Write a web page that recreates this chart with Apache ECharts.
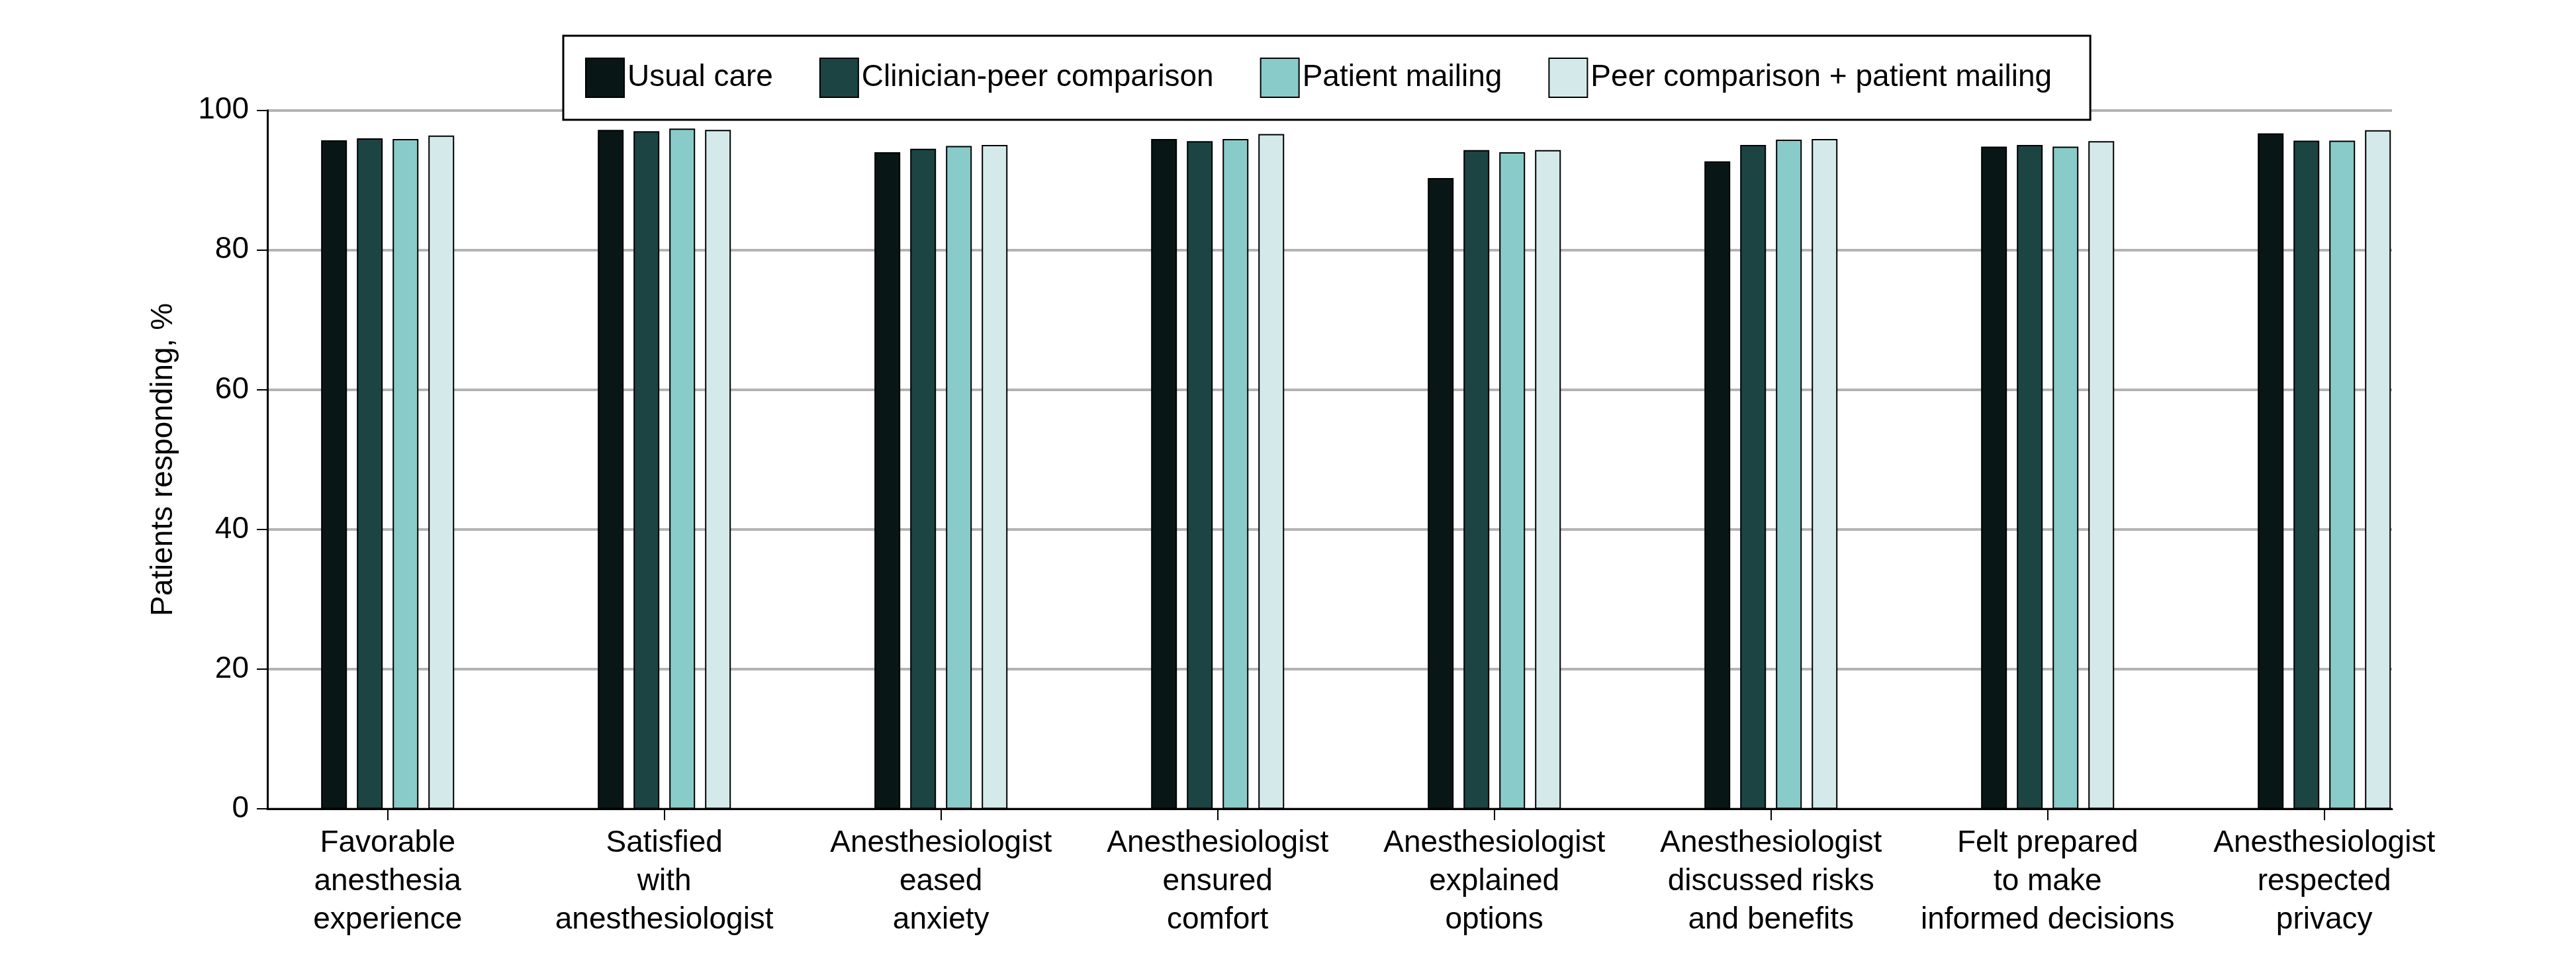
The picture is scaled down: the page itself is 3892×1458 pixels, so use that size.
<!DOCTYPE html>
<html>
<head>
<meta charset="utf-8">
<script src="https://cdn.jsdelivr.net/npm/echarts@6/dist/echarts.min.js"></script>
<style>
html,body{margin:0;padding:0;background:#fff;}
#chart{width:3892px;height:1458px;}
</style>
</head>
<body>
<div id="chart"></div>
<script>
const categories = [
  'Favorable\nanesthesia\nexperience',
  'Satisfied\nwith\nanesthesiologist',
  'Anesthesiologist\neased\nanxiety',
  'Anesthesiologist\nensured\ncomfort',
  'Anesthesiologist\nexplained\noptions',
  'Anesthesiologist\ndiscussed risks\nand benefits',
  'Felt prepared\nto make\ninformed decisions',
  'Anesthesiologist\nrespected\nprivacy'
];
const seriesNames = ['Usual care', 'Clinician-peer comparison', 'Patient mailing', 'Peer comparison + patient mailing'];
const usualCare       = [95.7, 97.2, 94.0, 95.9, 90.3, 92.7, 94.8, 96.7];
const clinicianPeer   = [96.0, 97.0, 94.5, 95.6, 94.3, 95.05, 95.05, 95.65];
const patientMailing  = [95.9, 97.4, 94.9, 95.9, 94.0, 95.8, 94.8, 95.65];
const peerPlusMailing = [96.4, 97.2, 95.05, 96.6, 94.3, 95.9, 95.6, 97.15];
const yAxisTitle = 'Patients responding, %';

const colors = ['#081716', '#1b4443', '#88cbc9', '#d4e9ea'];
const seriesValues = [usualCare, clinicianPeer, patientMailing, peerPlusMailing];
const FONT = '"Liberation Sans", Arial, sans-serif';

const chart = echarts.init(document.getElementById('chart'), null, {width: 3892, height: 1458, renderer: 'canvas'});

const TOP = 166.7, BOTTOM = 1458 - 1222.2;

const option = {
  backgroundColor: '#ffffff',
  animation: false,
  textStyle: {fontFamily: FONT},
  legend: {
    data: seriesNames,
    left: 851, top: 54,
    orient: 'horizontal',
    padding: [33, 58, 33, 33],
    backgroundColor: '#ffffff',
    borderColor: '#000000',
    borderWidth: 3,
    itemWidth: 58, itemHeight: 59,
    itemGap: 70,
    itemTextGap: 14,
    icon: 'rect',
    itemStyle: {borderColor: '#000000', borderWidth: 2},
    textStyle: {fontSize: 46, color: '#000000', fontFamily: FONT},
    z: 10
  },
  grid: [
    {left: 376.7, width: 3344, top: TOP, bottom: BOTTOM, containLabel: false},
    {left: 404, width: 3210, top: TOP, bottom: BOTTOM, containLabel: false}
  ],
  xAxis: [
    {
      type: 'category', gridIndex: 0, data: categories,
      boundaryGap: true,
      axisLine: {show: false},
      axisTick: {show: true, alignWithLabel: true, length: 17, lineStyle: {color: '#000', width: 2}},
      axisLabel: {interval: 0, margin: 23, fontSize: 46, lineHeight: 58, color: '#000', fontFamily: FONT, align: 'center'},
      splitLine: {show: false}
    },
    {
      type: 'value', gridIndex: 1, min: 0, max: 1, z: 5,
      axisLine: {show: true, lineStyle: {color: '#000', width: 3}},
      axisTick: {show: false}, axisLabel: {show: false}, splitLine: {show: false}
    }
  ],
  yAxis: [
    {type: 'value', gridIndex: 0, min: 0, max: 100, show: false},
    {
      type: 'value', gridIndex: 1, min: 0, max: 100, interval: 20,
      name: yAxisTitle, nameLocation: 'middle', nameGap: 134, nameRotate: 90,
      nameTextStyle: {fontSize: 46, color: '#000', fontFamily: FONT},
      axisLine: {show: true, lineStyle: {color: '#000', width: 3}},
      axisTick: {show: true, length: 16, lineStyle: {color: '#000', width: 2}},
      axisLabel: {margin: 28, fontSize: 46, color: '#000', fontFamily: FONT},
      splitLine: {show: true, lineStyle: {color: '#b3b3b3', width: 4}}
    }
  ],
  series: seriesNames.map((name, i) => ({
    name: name,
    type: 'bar',
    xAxisIndex: 0, yAxisIndex: 0,
    data: seriesValues[i],
    barWidth: 39,
    barGap: '38.5%',
    itemStyle: {color: colors[i], borderColor: '#000000', borderWidth: 2},
    emphasis: {disabled: true}
  }))
};
chart.setOption(option);
</script>
</body>
</html>
